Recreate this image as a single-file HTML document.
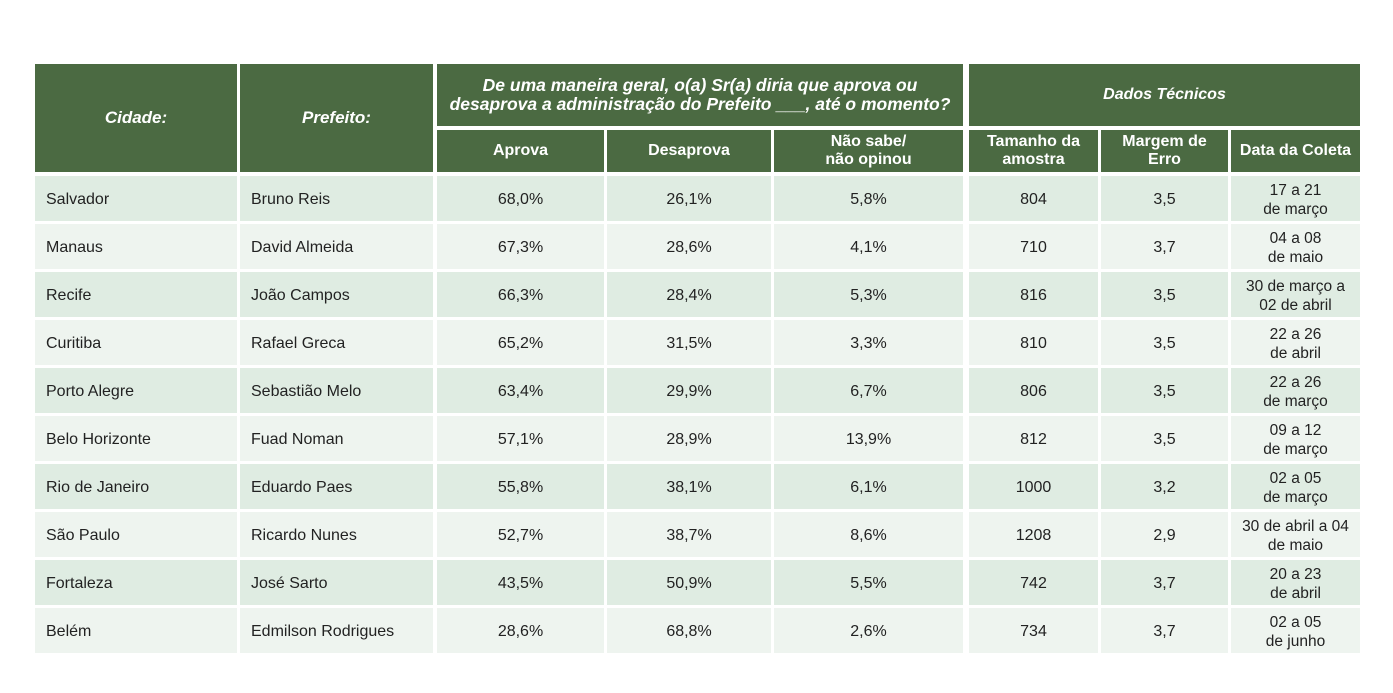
<!DOCTYPE html>
<html><head><meta charset="utf-8"><style>
body{margin:0;width:1393px;height:693px;background:#fff;position:relative;overflow:hidden;font-family:"Liberation Sans",sans-serif;}
.c{position:absolute;display:flex;align-items:center;justify-content:center;text-align:center;box-sizing:border-box;font-size:16px;color:#222;line-height:19px;padding-top:2px;}
.h{background:#4b6a42;color:#fff;font-weight:bold;line-height:18px;padding-top:0;}
.i{font-style:italic;}
.l{justify-content:flex-start;padding-left:11px;text-align:left;}
.a{background:#dfece2;}.b{background:#eef4ef;}
</style></head><body>
<div class="c h i" style="left:35px;top:64px;width:202px;height:108px;font-size:17px">Cidade:</div>
<div class="c h i" style="left:240px;top:64px;width:193px;height:108px;font-size:17px">Prefeito:</div>
<div class="c h i" style="left:437px;top:64px;width:526px;height:62px;font-size:17.5px;line-height:19px">De uma maneira geral, o(a) Sr(a) diria que aprova ou<br>desaprova a administração do Prefeito ___, até o momento?</div>
<div class="c h i" style="left:969px;top:64px;width:391px;height:62px">Dados Técnicos</div>
<div class="c h" style="left:437px;top:130px;width:167px;height:42px">Aprova</div>
<div class="c h" style="left:607px;top:130px;width:164px;height:42px">Desaprova</div>
<div class="c h" style="left:774px;top:130px;width:189px;height:42px">Não sabe/<br>não opinou</div>
<div class="c h" style="left:969px;top:130px;width:129px;height:42px">Tamanho da<br>amostra</div>
<div class="c h" style="left:1101px;top:130px;width:127px;height:42px">Margem de<br>Erro</div>
<div class="c h" style="left:1231px;top:130px;width:129px;height:42px">Data da Coleta</div>
<div id="rows"></div>
<script>
var d=[["Salvador","Bruno Reis","68,0%","26,1%","5,8%","804","3,5","17 a 21<br>de março"],
["Manaus","David Almeida","67,3%","28,6%","4,1%","710","3,7","04 a 08<br>de maio"],
["Recife","João Campos","66,3%","28,4%","5,3%","816","3,5","30 de março a<br>02 de abril"],
["Curitiba","Rafael Greca","65,2%","31,5%","3,3%","810","3,5","22 a 26<br>de abril"],
["Porto Alegre","Sebastião Melo","63,4%","29,9%","6,7%","806","3,5","22 a 26<br>de março"],
["Belo Horizonte","Fuad Noman","57,1%","28,9%","13,9%","812","3,5","09 a 12<br>de março"],
["Rio de Janeiro","Eduardo Paes","55,8%","38,1%","6,1%","1000","3,2","02 a 05<br>de março"],
["São Paulo","Ricardo Nunes","52,7%","38,7%","8,6%","1208","2,9","30 de abril a 04<br>de maio"],
["Fortaleza","José Sarto","43,5%","50,9%","5,5%","742","3,7","20 a 23<br>de abril"],
["Belém","Edmilson Rodrigues","28,6%","68,8%","2,6%","734","3,7","02 a 05<br>de junho"]];
var cols=[[35,202],[240,193],[437,167],[607,164],[774,189],[969,129],[1101,127],[1231,129]];
var h="";
d.forEach(function(r,i){var t=176+48*i,cl=i%2?"b":"a";
r.forEach(function(v,j){h+='<div class="c '+cl+(j<2?' l':'')+'" style="left:'+cols[j][0]+'px;top:'+t+'px;width:'+cols[j][1]+'px;height:45px'+(j==7?';font-size:15.5px':'')+'">'+v+'</div>';});});
document.getElementById("rows").innerHTML=h;
</script>
</body></html>
